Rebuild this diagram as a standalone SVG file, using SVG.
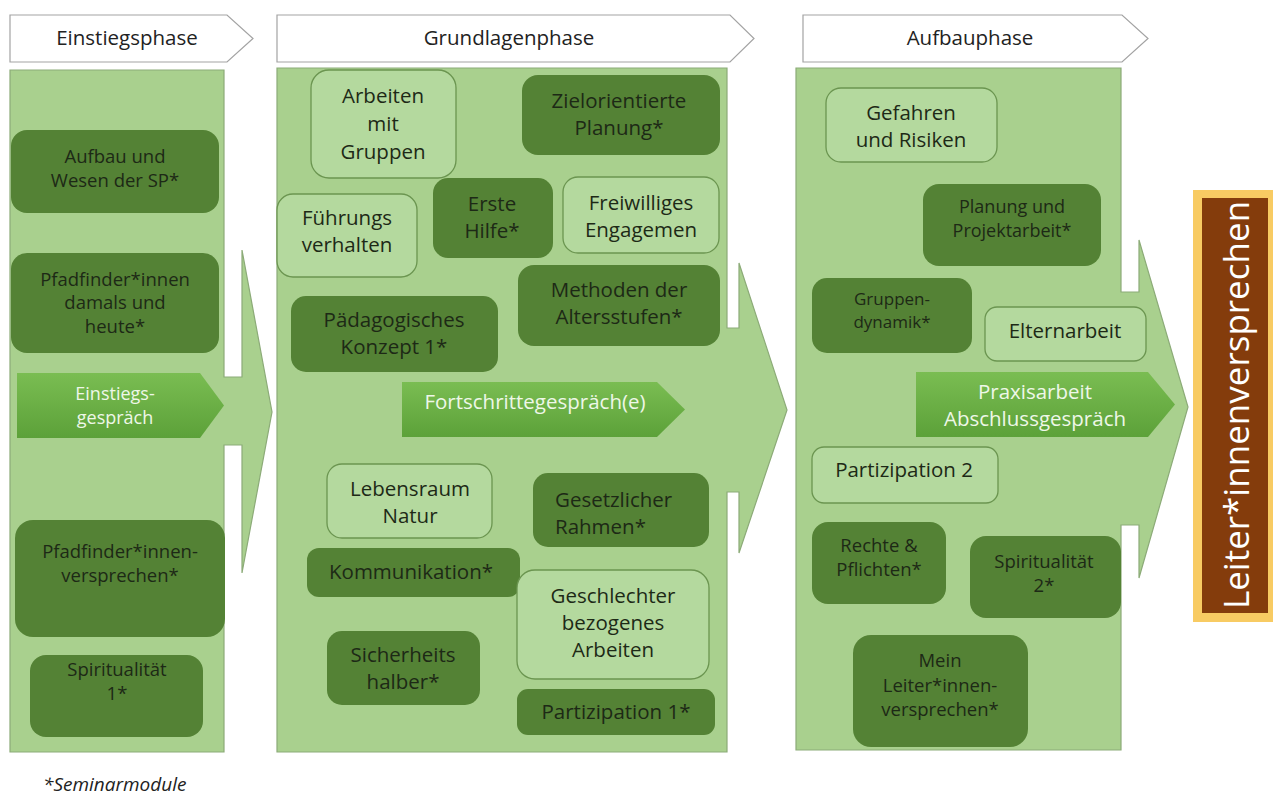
<svg xmlns="http://www.w3.org/2000/svg" width="1276" height="801" viewBox="0 0 1276 801">
<defs>
<linearGradient id="pg" x1="0" y1="0" x2="0" y2="1">
<stop offset="0" stop-color="#7abd52"/>
<stop offset="1" stop-color="#5ca139"/>
</linearGradient>
<style>
.panel{fill:#a9d08e;stroke:#8cab78;stroke-width:1.2}
.hdr{fill:#ffffff;stroke:#a3a3a3;stroke-width:1.2}
.dark{fill:#548235}
.light{fill:#b4d99e;stroke:#6b9550;stroke-width:1.3}
.pent{fill:url(#pg)}
text{font-family:"Open Sans","Liberation Sans",sans-serif;fill:#1d2916;text-anchor:middle}
.w{fill:#eef7e8}
.s17{font-size:17px}
.s18{font-size:18px}
.s185{font-size:18.5px}
.s20{font-size:20.5px}
.h{font-size:20.5px;fill:#222}
</style>
</defs>
<rect width="1276" height="801" fill="#ffffff"/>

<g id="phases">
<path class="panel" d="M10,70 H224 V377 H242 V250 L272,412 L242,573 V445 H224 V752 H10 Z"/>
<path class="panel" d="M277,68 H727 V328 H739 V263 L787,410 L739,553 V492 H727 V752 H277 Z"/>
<path class="panel" d="M796,68 H1121 V292 H1139 V240 L1188,407 L1139,578 V525 H1121 V750 H796 Z"/>
</g>

<g id="headers">
<g id="h-einstieg"><path class="hdr" d="M10,15 H227 L253,38.5 L227,62 H10 Z"/><text class="h" x="127" y="45">Einstiegsphase</text></g>
<g id="h-grundlagen"><path class="hdr" d="M277,15 H730 L754,38.5 L730,62 H277 Z"/><text class="h" x="509" y="45">Grundlagenphase</text></g>
<g id="h-aufbau"><path class="hdr" d="M803,15 H1122 L1148,38.5 L1122,62 H803 Z"/><text class="h" x="970" y="45">Aufbauphase</text></g>
</g>

<g id="connectors"></g>

<!-- Column 1 -->
<g id="n-aufbau"><rect class="dark" x="11" y="130" width="208" height="83" rx="16"/><text class="s185" x="115" y="163">Aufbau und</text><text class="s185" x="115" y="186.5">Wesen der SP*</text></g>
<g id="n-pfad-damals"><rect class="dark" x="11" y="253" width="208" height="100" rx="16"/><text class="s185" x="115" y="285.5">Pfadfinder*innen</text><text class="s185" x="115" y="309">damals und</text><text class="s185" x="115" y="332.5">heute*</text></g>
<g id="n-einstiegsgespraech"><path class="pent" d="M17,373 H200 L224,405.5 L200,438 H17 Z"/><text class="s18 w" x="115" y="400">Einstiegs-</text><text class="s18 w" x="115" y="424">gespräch</text></g>
<g id="n-pfad-versprechen"><rect class="dark" x="15" y="520" width="210" height="117" rx="18"/><text class="s185" x="120" y="558">Pfadfinder*innen-</text><text class="s185" x="120" y="581.5">versprechen*</text></g>
<g id="n-spirit1"><rect class="dark" x="30" y="655" width="173" height="82" rx="16"/><text class="s185" x="117" y="676">Spiritualität</text><text class="s185" x="117" y="699.5">1*</text></g>

<!-- Column 2 -->
<g id="n-arbeiten"><rect class="light" x="311" y="70" width="145" height="108" rx="18"/><text class="s20" x="383" y="103">Arbeiten</text><text class="s20" x="383" y="131">mit</text><text class="s20" x="383" y="159">Gruppen</text></g>
<g id="n-ziel"><rect class="dark" x="522" y="75" width="198" height="80" rx="16"/><text class="s20" x="619" y="108">Zielorientierte</text><text class="s20" x="619" y="135">Planung*</text></g>
<g id="n-fuehrung"><rect class="light" x="277" y="194" width="140" height="83" rx="16"/><text class="s20" x="347" y="225">Führungs</text><text class="s20" x="347" y="252">verhalten</text></g>
<g id="n-erste"><rect class="dark" x="433" y="178" width="120" height="80" rx="15"/><text class="s20" x="492" y="211">Erste</text><text class="s20" x="492" y="238">Hilfe*</text></g>
<g id="n-freiw"><rect class="light" x="563" y="177" width="156" height="76" rx="15"/><text class="s20" x="641" y="210">Freiwilliges</text><text class="s20" x="641" y="237">Engagemen</text></g>
<g id="n-methoden"><rect class="dark" x="518" y="265" width="202" height="81" rx="16"/><text class="s20" x="619" y="297">Methoden der</text><text class="s20" x="619" y="324">Altersstufen*</text></g>
<g id="n-paed"><rect class="dark" x="291" y="296" width="207" height="76" rx="15"/><text class="s20" x="394" y="327">Pädagogisches</text><text class="s20" x="394" y="354">Konzept 1*</text></g>
<g id="n-fortschritt"><path class="pent" d="M402,382 H657 L685,409.5 L657,437 H402 Z"/><text class="s20 w" x="535" y="409">Fortschrittegespräch(e)</text></g>
<g id="n-lebensraum"><rect class="light" x="327" y="464" width="165" height="74" rx="15"/><text class="s20" x="410" y="496">Lebensraum</text><text class="s20" x="410" y="523">Natur</text></g>
<g id="n-gesetz"><rect class="dark" x="533" y="473" width="176" height="74" rx="15"/><text class="s20" x="555" y="507" style="text-anchor:start">Gesetzlicher</text><text class="s20" x="555" y="534" style="text-anchor:start">Rahmen*</text></g>
<g id="n-komm"><rect class="dark" x="307" y="548" width="213" height="49" rx="12"/><text class="s20" x="411" y="579">Kommunikation*</text></g>
<g id="n-geschl"><rect class="light" x="517" y="570" width="192" height="109" rx="18"/><text class="s20" x="613" y="603">Geschlechter</text><text class="s20" x="613" y="630">bezogenes</text><text class="s20" x="613" y="657">Arbeiten</text></g>
<g id="n-sicher"><rect class="dark" x="327" y="631" width="153" height="74" rx="15"/><text class="s20" x="403" y="662">Sicherheits</text><text class="s20" x="403" y="689">halber*</text></g>
<g id="n-partiz1"><rect class="dark" x="517" y="689" width="198" height="46" rx="11"/><text class="s20" x="616" y="719">Partizipation 1*</text></g>

<!-- Column 3 -->
<g id="n-gefahren"><rect class="light" x="826" y="88" width="171" height="74" rx="15"/><text class="s20" x="911" y="120">Gefahren</text><text class="s20" x="911" y="147">und Risiken</text></g>
<g id="n-planung"><rect class="dark" x="923" y="184" width="178" height="82" rx="16"/><text class="s18" x="1012" y="213">Planung und</text><text class="s18" x="1012" y="236.5">Projektarbeit*</text></g>
<g id="n-gruppendyn"><rect class="dark" x="812" y="278" width="160" height="75" rx="15"/><text class="s17" x="892" y="305">Gruppen-</text><text class="s17" x="892" y="327.5">dynamik*</text></g>
<g id="n-eltern"><rect class="light" x="985" y="307" width="161" height="54" rx="12"/><text class="s20" x="1065" y="338">Elternarbeit</text></g>
<g id="n-praxis"><path class="pent" d="M916,372 H1148 L1175,404.5 L1148,437 H916 Z"/><text class="s20 w" x="1035" y="399">Praxisarbeit</text><text class="s20 w" x="1035" y="426">Abschlussgespräch</text></g>
<g id="n-partiz2"><rect class="light" x="812" y="447" width="186" height="56" rx="12"/><text class="s20" x="904" y="477">Partizipation 2</text></g>
<g id="n-rechte"><rect class="dark" x="812" y="522" width="134" height="82" rx="16"/><text class="s185" x="879" y="552">Rechte &amp;</text><text class="s185" x="879" y="575.5">Pflichten*</text></g>
<g id="n-spirit2"><rect class="dark" x="970" y="536" width="151" height="82" rx="16"/><text class="s185" x="1044" y="568">Spiritualität</text><text class="s185" x="1044" y="591.5">2*</text></g>
<g id="n-mein"><rect class="dark" x="853" y="635" width="175" height="112" rx="18"/><text class="s185" x="940" y="667">Mein</text><text class="s185" x="940" y="691.5">Leiter*innen-</text><text class="s185" x="940" y="716">versprechen*</text></g>

<g id="n-leiter">
<rect x="1193" y="190" width="80" height="432" fill="#f8cb63"/>
<rect x="1202" y="198" width="66" height="415" fill="#843c0c"/>
<text transform="translate(1249,405) rotate(-90)" style="font-size:35px;fill:#ffffff">Leiter*innenversprechen</text>
</g>

<text x="43" y="791" style="font-size:19px;font-style:italic;text-anchor:start;fill:#222">*Seminarmodule</text>
</svg>
